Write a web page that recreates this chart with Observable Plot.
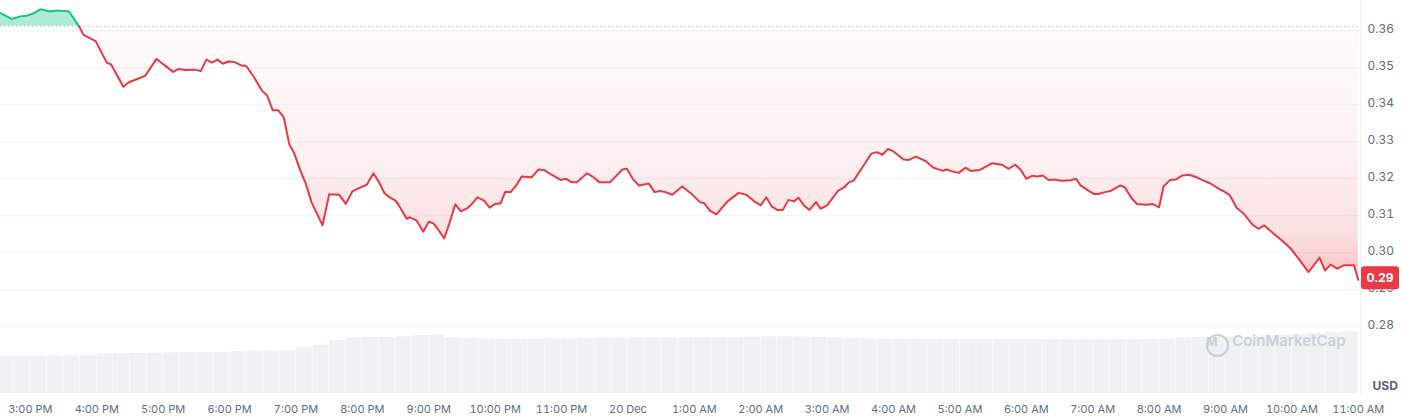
<!DOCTYPE html>
<html>
<head>
<meta charset="utf-8">
<script src="https://cdn.jsdelivr.net/npm/d3@7"></script>
<script src="https://cdn.jsdelivr.net/npm/@observablehq/plot@0.6"></script>
<style>
  html, body { margin: 0; padding: 0; background: #ffffff; }
  #wrap { position: relative; width: 1402px; height: 419px; overflow: hidden; }
  #wrap svg { position: absolute; left: 0; top: 0; }
</style>
</head>
<body>
<div id="wrap"></div>
<script>
// ---- price series, times Dec 19 (>=14h) / Dec 20 (<14h)
const times = [
  "14:33","14:43","14:51","14:57","15:02","15:09","15:18","15:24","15:33","15:35",
  "15:44","15:48","15:59","16:09","16:13","16:24","16:29","16:36","16:44","16:54",
  "17:09","17:14","17:20","17:29","17:34","17:39","17:44","17:49","17:54","17:59",
  "18:04","18:10","18:15","18:22","18:29","18:34","18:39","18:44","18:49","18:54",
  "18:58","19:04","19:09","19:14","19:24","19:30","19:39","19:45","19:51","19:57",
  "20:04","20:10","20:15","20:20","20:25","20:30","20:34","20:40","20:43","20:49",
  "20:55","21:00","21:04","21:08","21:14","21:19","21:24","21:29","21:35","21:39",
  "21:44","21:50","21:55","22:00","22:05","22:09","22:14","22:19","22:24","22:33",
  "22:39","22:44","22:51","22:59","23:04","23:09","23:14","23:23","23:28","23:34",
  "23:44","23:55","23:59","00:05","00:10","00:19","00:24","00:29","00:34","00:40",
  "00:49","00:58","01:05","01:09","01:14","01:20","01:30","01:40","01:47","01:54",
  "02:00","02:05","02:10","02:15","02:20","02:25","02:30","02:34","02:39","02:44",
  "02:50","02:54","03:00","03:10","03:15","03:20","03:24","03:31","03:40","03:45",
  "03:50","03:55","04:00","04:09","04:14","04:20","04:29","04:36","04:44","04:48",
  "04:53","04:59","05:05","05:10","05:18","05:29","05:38","05:44","05:50","05:55",
  "06:00","06:05","06:10","06:15","06:20","06:25","06:32","06:40","06:45","06:49",
  "06:55","07:01","07:05","07:11","07:16","07:25","07:29","07:35","07:40","07:49",
  "07:54","08:00","08:04","08:10","08:15","08:21","08:27","08:34","08:40","08:46",
  "08:54","08:58","09:04","09:10","09:16","09:25","09:30","09:35","09:43","09:51",
  "09:59","10:06","10:15","10:25","10:30","10:35","10:41","10:47","10:56","11:00"
];
const prices = [
  0.3648,0.3632,0.3639,0.3641,0.3646,0.3658,0.3652,0.3655,0.3653,0.3652,
  0.3612,0.3589,0.3572,0.3514,0.3509,0.3449,0.3461,0.3469,0.3479,0.3524,
  0.3489,0.3497,0.3494,0.3495,0.3491,0.3522,0.3514,0.3522,0.3511,0.3517,
  0.3516,0.3507,0.3505,0.3475,0.3439,0.3425,0.3385,0.3385,0.3366,0.3293,
  0.3272,0.3222,0.3186,0.3137,0.3074,0.3158,0.3157,0.3132,0.3166,0.3175,
  0.3184,0.3215,0.3191,0.3161,0.3149,0.3141,0.3123,0.3092,0.3096,0.3087,
  0.3057,0.3084,0.3080,0.3065,0.3039,0.3083,0.3131,0.3112,0.3121,0.3132,
  0.3150,0.3141,0.3122,0.3132,0.3134,0.3164,0.3164,0.3182,0.3206,0.3204,
  0.3225,0.3224,0.3211,0.3197,0.3200,0.3191,0.3191,0.3215,0.3206,0.3191,
  0.3191,0.3225,0.3227,0.3197,0.3182,0.3187,0.3164,0.3167,0.3164,0.3157,
  0.3179,0.3158,0.3137,0.3134,0.3114,0.3104,0.3139,0.3162,0.3157,0.3139,
  0.3128,0.3150,0.3125,0.3116,0.3116,0.3143,0.3139,0.3149,0.3128,0.3116,
  0.3137,0.3119,0.3128,0.3168,0.3176,0.3191,0.3195,0.3227,0.3268,0.3272,
  0.3265,0.3281,0.3274,0.3252,0.3251,0.3260,0.3248,0.3230,0.3222,0.3225,
  0.3220,0.3216,0.3230,0.3221,0.3224,0.3242,0.3238,0.3227,0.3238,0.3224,
  0.3200,0.3208,0.3206,0.3209,0.3197,0.3198,0.3195,0.3196,0.3200,0.3182,
  0.3170,0.3159,0.3159,0.3164,0.3167,0.3182,0.3177,0.3148,0.3132,0.3130,
  0.3132,0.3123,0.3179,0.3197,0.3198,0.3209,0.3211,0.3204,0.3195,0.3188,
  0.3173,0.3167,0.3155,0.3122,0.3107,0.3074,0.3065,0.3074,0.3053,0.3033,
  0.3011,0.2984,0.2948,0.2987,0.2952,0.2968,0.2957,0.2966,0.2966,0.2927
];
const baseline = 0.3612;          // opening price (dotted reference line)
const yTicks = [0.28, 0.29, 0.30, 0.31, 0.32, 0.33, 0.34, 0.35, 0.36];

// ---- volume bars (15-minute slots from 14:30, relative height units)
const volume = [
  3.73,3.73,3.73,3.75,3.75,3.80,3.95,3.98,4.00,4.05,
  4.08,4.10,4.10,4.12,4.18,4.22,4.22,4.30,4.55,4.85,
  5.30,5.55,5.60,5.62,5.68,5.80,5.82,5.55,5.50,5.48,
  5.45,5.45,5.45,5.48,5.48,5.50,5.52,5.52,5.55,5.55,
  5.55,5.55,5.58,5.58,5.58,5.65,5.68,5.68,5.66,5.62,
  5.55,5.50,5.48,5.45,5.45,5.45,5.43,5.43,5.42,5.42,
  5.42,5.42,5.42,5.40,5.40,5.40,5.40,5.40,5.40,5.42,
  5.45,5.55,5.62,5.62,5.65,5.70,5.78,5.85,5.92,6.00,
  6.08,6.15
];

const parseT = s => {
  const [h, m] = s.split(":").map(Number);
  return new Date(Date.UTC(2024, 11, h >= 14 ? 19 : 20, h, m));
};
const data = times.map((t, i) => ({date: parseT(t), price: prices[i], i}));
const crossIdx = prices.indexOf(baseline);
const xDomain = [parseT("14:33"), parseT("11:02")];
const slots = d3.utcMinute.every(15).range(parseT("14:30"), parseT("11:00"));
const volData = slots.map((s, i) => ({start: s, end: new Date(+s + 15 * 60000), vol: volume[i]}));
const hourTicks = d3.utcHour.range(parseT("15:00"), parseT("11:01"));
const tf = d => d.getUTCHours() === 0 ? d3.utcFormat("%-d %b")(d) : d3.utcFormat("%-I:%M %p")(d);

const W = 1402, H = 419, MB = 26, MR = 42;
const font = "Inter, 'Noto Sans', sans-serif";
const labelColor = "#616e85";
const red = "#ea3943", green = "#16c784";

// ---- volume layer
const vol = Plot.plot({
  width: W, height: H, marginTop: 0, marginBottom: MB, marginLeft: 0, marginRight: MR,
  style: {background: "transparent", fontFamily: font},
  x: {type: "utc", domain: xDomain, axis: null},
  y: {domain: [0, 39.3], axis: null},
  marks: [
    Plot.rectY(volData, {x1: "start", x2: "end", y: "vol", fill: "#eff2f5", insetLeft: 0.25, insetRight: 0.25, clip: true})
  ]
});

// ---- price layer
const defsMark = () => {
  const defs = d3.create("svg:defs");
  const g = defs.append("linearGradient").attr("id", "redFade")
    .attr("x1", 0).attr("x2", 0).attr("y1", 0).attr("y2", 1);
  [[0, 0.02], [0.5, 0.07], [0.8, 0.15], [1, 0.30]].forEach(([o, a]) =>
    g.append("stop").attr("offset", o).attr("stop-color", red).attr("stop-opacity", a));
  return defs.node();
};
const lastPrice = prices[prices.length - 1];
const priceTag = (index, scales, values, dims) => {
  const y = scales.y(lastPrice);
  const x0 = dims.width - dims.marginRight + 1;
  const g = d3.create("svg:g");
  g.append("rect").attr("x", x0).attr("y", y - 13).attr("width", 38).attr("height", 23)
    .attr("rx", 3).attr("fill", red);
  g.append("text").attr("x", x0 + 19).attr("y", y - 1.5).attr("dy", "0.36em")
    .attr("text-anchor", "middle").attr("fill", "#ffffff").attr("font-weight", 700)
    .attr("font-size", 12).attr("font-family", font).text(d3.format(".2f")(lastPrice));
  return g.node();
};

const chart = Plot.plot({
  width: W, height: H, marginTop: 0, marginBottom: MB, marginLeft: 0, marginRight: MR,
  style: {background: "transparent", fontFamily: font, overflow: "visible"},
  x: {type: "utc", domain: xDomain},
  y: {domain: [0.26197, 0.36819]},
  marks: [
    defsMark,
    Plot.ruleY(yTicks, {stroke: "#eff2f5", strokeWidth: 1}),
    Plot.frame({anchor: "right", stroke: "#eff2f5"}),
    Plot.areaY(data, {x: "date", y1: baseline, y2: d => Math.max(d.price, baseline), fill: green, fillOpacity: 0.35}),
    Plot.areaY(data, {x: "date", y1: baseline, y2: d => Math.min(d.price, baseline), fill: "url(#redFade)"}),
    Plot.ruleY([baseline], {stroke: "#b3bbc8", strokeWidth: 1, strokeDasharray: "1.2,2.8"}),
    Plot.line(data.filter(d => d.i <= crossIdx), {x: "date", y: "price", stroke: green, strokeWidth: 2}),
    Plot.line(data.filter(d => d.i >= crossIdx), {x: "date", y: "price", stroke: red, strokeWidth: 2}),
    Plot.axisY(yTicks, {anchor: "right", tickSize: 0, tickPadding: 7, tickFormat: d3.format(".2f"),
      fill: labelColor, fontSize: 12, dy: -1.5, label: null}),
    Plot.axisX(hourTicks, {anchor: "bottom", tickSize: 0, tickPadding: 12, tickFormat: tf,
      fill: labelColor, fontSize: 11, label: null}),
    priceTag,
    Plot.text(["USD"], {frameAnchor: "bottom-right", dx: 12, dy: -4, textAnchor: "start",
      fontWeight: 700, fontSize: 12, fill: "#58667e"}),
    Plot.dot([0], {frameAnchor: "bottom-right", dx: -143, dy: -48, r: 10.5, stroke: "#c9d0db",
      strokeWidth: 2.2, fill: "none"}),
    Plot.text(["M"], {frameAnchor: "bottom-right", dx: -143, dy: -48, fontSize: 12, fontWeight: 700,
      fill: "#c9d0db"}),
    Plot.text(["CoinMarketCap"], {frameAnchor: "bottom-right", dx: -15, dy: -48, textAnchor: "end",
      fontSize: 15, fontWeight: 600, fill: "#c9d0db"})
  ]
});

const wrap = document.getElementById("wrap");
wrap.appendChild(vol);
wrap.appendChild(chart);
</script>
</body>
</html>
